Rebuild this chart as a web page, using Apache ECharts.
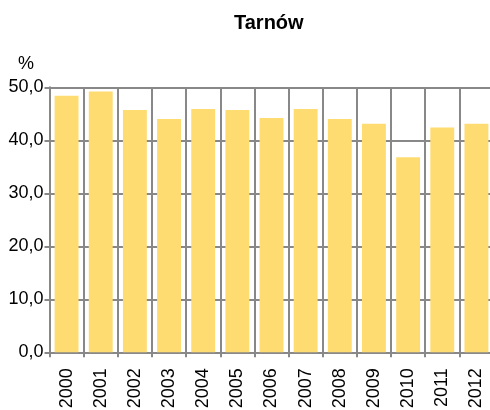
<!DOCTYPE html>
<html><head><meta charset="utf-8">
<script src="https://cdn.jsdelivr.net/npm/echarts@6/dist/echarts.min.js"></script>
<style>html,body{margin:0;padding:0;background:#fff}#c{width:490px;height:410px}</style>
</head><body><div id="c"></div>
<script>
const titleText = 'Tarnów';
const unitLabel = '%';
const years = ['2000','2001','2002','2003','2004','2005','2006','2007','2008','2009','2010','2011','2012'];
const values = [48.4, 49.2, 45.7, 44.0, 45.9, 45.7, 44.2, 45.9, 44.0, 43.1, 36.8, 42.4, 43.1];

const chart = echarts.init(document.getElementById('c'), null, {renderer:'canvas'});
const grey = '#888888';
const font = 'Liberation Sans, Arial, sans-serif';
chart.setOption({
  animation: false,
  backgroundColor: '#ffffff',
  title: { text: titleText, left: 229, top: 8, textStyle: { fontFamily: font, fontSize: 20, fontWeight: 'bold', color: '#000' } },
  graphic: [{ type: 'text', left: 18, top: 55, style: { text: unitLabel, font: '18px ' + font, fill: '#000' } }],
  grid: { left: 49.5, top: 87.3, bottom: 57.7, width: 444, containLabel: false, outerBoundsMode: 'none' },
  xAxis: {
    type: 'category', data: years, boundaryGap: true,
    axisLine: { show: true, lineStyle: { color: grey, width: 2 } },
    axisTick: { show: true, length: 5, lineStyle: { color: grey, width: 2 } },
    splitLine: { show: true, lineStyle: { color: grey, width: 2 } },
    axisLabel: { rotate: 90, margin: 16, fontFamily: font, fontSize: 18, color: '#000', interval: 0 }
  },
  yAxis: {
    type: 'value', min: 0, max: 50, interval: 10,
    axisLine: { show: true, lineStyle: { color: grey, width: 2 } },
    axisTick: { show: true, length: 5, lineStyle: { color: grey, width: 2 } },
    splitLine: { show: true, lineStyle: { color: grey, width: 2 } },
    axisLabel: { margin: 6, fontFamily: font, fontSize: 18, color: '#000', formatter: v => v.toFixed(1).replace('.', ',') }
  },
  series: [{ type: 'bar', data: values, barCategoryGap: '30%', itemStyle: { color: '#FFDC72' } }]
});
</script></body></html>
